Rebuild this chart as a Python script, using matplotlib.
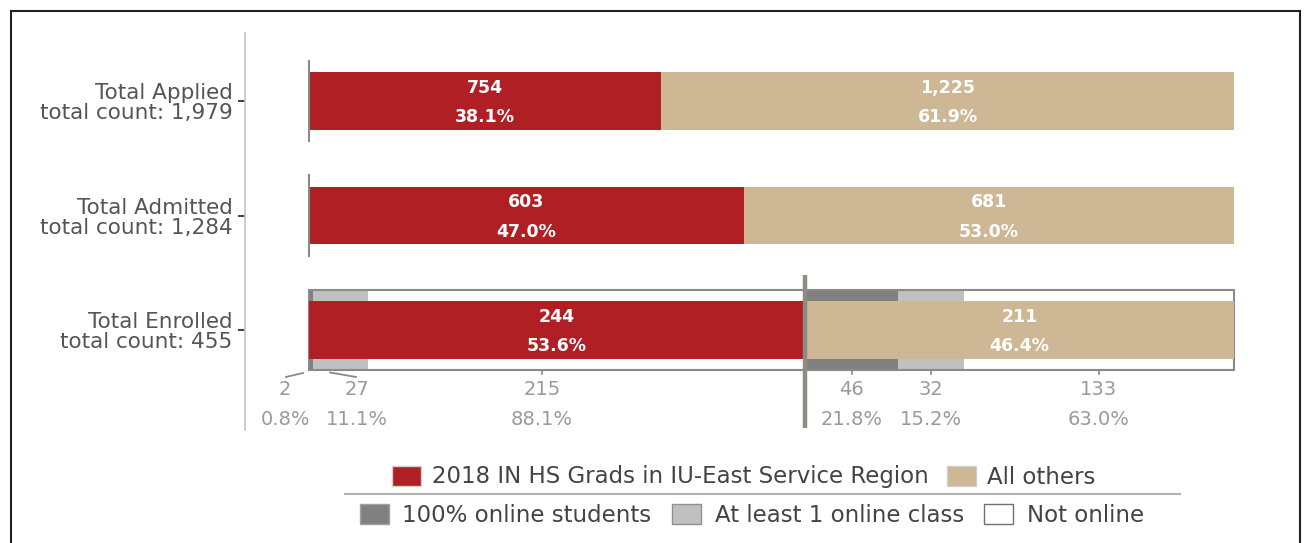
import numpy as np
import matplotlib
matplotlib.use("Agg")
import matplotlib.pyplot as plt
from matplotlib.patches import Patch
from matplotlib.lines import Line2D

# data
categories = ['Total Applied\ntotal count: 1,979',
              'Total Admitted\ntotal count: 1,284',
              'Total Enrolled\ntotal count: 455']
region_counts = [754, 603, 244]
other_counts = [1225, 681, 211]
region_pct = [38.1, 47.0, 53.6]
other_pct = [61.9, 53.0, 46.4]

# online breakdown of the enrolled bar
online_groups = ['100% online students', 'At least 1 online class', 'Not online']
region_online_counts = [2, 27, 215]
region_online_pct = [0.8, 11.1, 88.1]
other_online_counts = [46, 32, 133]
other_online_pct = [21.8, 15.2, 63.0]

RED = '#b01f24'
TAN = '#cdb795'
DARK = '#808080'
LIGHT = '#c0c0c0'
TXT = '#555555'
LAB = '#9a9a9a'

W, H = 1309, 543
fig = plt.figure(figsize=(W / 100, H / 100), dpi=100)
fig.patch.set_facecolor('white')

# axes placed in pixel terms
x0, x1 = 309, 1234          # bar start / end (px)
ax_l, ax_r = 245, 1245
ax_t, ax_b = 33, 430
ax = fig.add_axes([ax_l / W, 1 - ax_b / H, (ax_r - ax_l) / W, (ax_b - ax_t) / H])
span = x1 - x0
ax.set_xlim((ax_l - x0) / span, 1 + (ax_r - x1) / span)
step = 114.5
ax.set_ylim(2 + (ax_b - 330) / step, -(101 - ax_t) / step)

ypos = np.arange(len(categories))
bar_h = 0.50
strip_h = 0.69

# enrolled online strip behind the bar
ie = 2
r_share = region_pct[ie] / 100
o_share = other_pct[ie] / 100
online_colors = [DARK, LIGHT, 'white']
left = 0
for pct, col in zip(region_online_pct, online_colors):
    w = r_share * pct / 100
    ax.barh(ie, w, left=left, height=strip_h, color=col, zorder=1)
    left += w
left = r_share
for pct, col in zip(other_online_pct, online_colors):
    w = o_share * pct / 100
    ax.barh(ie, w, left=left, height=strip_h, color=col, zorder=1)
    left += w
ax.barh(ie, 1, left=0, height=strip_h, facecolor='none', edgecolor='#8a8a8a',
        linewidth=1.5, zorder=2)

# main stacked bars
fr = np.array(region_pct) / 100
fo = np.array(other_pct) / 100
ax.barh(ypos, fr, height=bar_h, color=RED, zorder=3)
ax.barh(ypos, fo, left=fr, height=bar_h, color=TAN, zorder=3)

for i in range(len(categories)):
    for c, p, l, w in [(region_counts[i], region_pct[i], 0, fr[i]),
                       (other_counts[i], other_pct[i], fr[i], fo[i])]:
        ax.text(l + w / 2, i - 0.115, f'{c:,}', ha='center', va='center',
                color='white', fontsize=12.5, fontweight='bold', zorder=5)
        ax.text(l + w / 2, i + 0.14, f'{p:.1f}%', ha='center', va='center',
                color='white', fontsize=12.5, fontweight='bold', zorder=5)

# start markers on first two bars
for i in range(2):
    ax.plot([0, 0], [i - 0.35, i + 0.35], color='#8a8a8a', lw=1.5, zorder=4)

# separator for enrolled
ax.plot([r_share, r_share], [2 - 0.48, ax.get_ylim()[0] - 0.02], color='#8c8c84',
        lw=3.2, zorder=6, solid_capstyle='butt')

# labels below enrolled strip
strip_bot = ie + strip_h / 2
y_cnt = 2 + (390 - 330) / step
y_pct = 2 + (420 - 330) / step
seg_left_o = r_share + np.concatenate([[0], np.cumsum(other_online_pct)[:-1]]) / 100 * o_share
seg_mid_o = seg_left_o + np.array(other_online_pct) / 200 * o_share
# region side labels are shifted in the original
lab_x_r = [(285 - x0) / span, (357 - x0) / span, (542 - x0) / span]
lab_x_o = list(seg_mid_o)

for xs, counts, pcts in [(lab_x_r, region_online_counts, region_online_pct),
                         (lab_x_o, other_online_counts, other_online_pct)]:
    for lx, c, p in zip(xs, counts, pcts):
        ax.text(lx, y_cnt, f'{c}', ha='center', va='center', color=LAB, fontsize=14)
        ax.text(lx, y_pct, f'{p:.1f}%', ha='center', va='center', color=LAB, fontsize=14)

# leader lines for the two narrow segments, small ticks for the rest
px = lambda v: (v - x0) / span
py = lambda v: 2 + (v - 330) / step
ax.plot([px(286), px(303)], [py(377), py(373)], color='#8a8a8a', lw=1.3, clip_on=False)
ax.plot([px(330), px(356)], [py(372.5), py(377)], color='#8a8a8a', lw=1.3, clip_on=False)
for lx in [lab_x_r[2]] + lab_x_o:
    ax.plot([lx, lx], [strip_bot, strip_bot + 0.04], color='#8a8a8a', lw=1.2)

# axes styling
for s in ['top', 'right', 'bottom']:
    ax.spines[s].set_visible(False)
ax.spines['left'].set_color('#c4c4c4')
ax.spines['left'].set_linewidth(1.2)
ax.set_xticks([])
ax.set_yticks(ypos)
ax.set_yticklabels(categories, fontsize=15.5, color=TXT, ha='right', linespacing=1.0)
ax.tick_params(axis='y', length=5, width=1.3, color='#333333', pad=4)

# legends
h1 = [Patch(facecolor=RED, edgecolor='#d0d0d0'), Patch(facecolor=TAN, edgecolor='#d0d0d0')]
leg1 = fig.legend(h1, ['2018 IN HS Grads in IU-East Service Region', 'All others'],
                  loc='center', bbox_to_anchor=(744 / W, 1 - 477 / H), ncol=2, frameon=False,
                  fontsize=16.5, handlelength=1.25, handleheight=0.95, handletextpad=0.5,
                  columnspacing=0.8, labelcolor='#444444')
h2 = [Patch(facecolor=DARK, edgecolor='#a0a0a0'), Patch(facecolor=LIGHT, edgecolor='#909090'),
      Patch(facecolor='white', edgecolor='#707070')]
leg2 = fig.legend(h2, online_groups, loc='center', bbox_to_anchor=(752 / W, 1 - 515 / H),
                  ncol=3, frameon=False, fontsize=16.5, handlelength=1.25, handleheight=0.95,
                  handletextpad=0.6, columnspacing=0.9, labelcolor='#444444')
fig.add_artist(Line2D([345 / W, 1180 / W], [1 - 494 / H] * 2, color='#b0b0b0', lw=1.5))

# outer frame
for xs, ys in [([11 / W, 11 / W], [0, 1 - 11 / H]),
               ([11 / W, 1300 / W], [1 - 11 / H, 1 - 11 / H]),
               ([1300 / W, 1300 / W], [0, 1 - 11 / H])]:
    fig.add_artist(Line2D(xs, ys, color='#222222', lw=1.5))

fig.savefig('out.png', dpi=100)
